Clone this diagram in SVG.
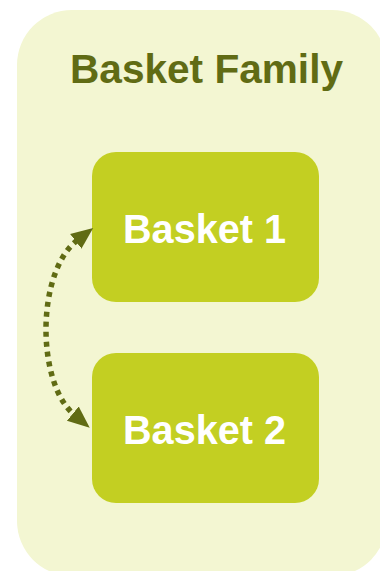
<svg xmlns="http://www.w3.org/2000/svg" width="380" height="571" viewBox="0 0 380 571">
<style>
.box{fill:#C3CF22}
.lbl{font-family:"Liberation Sans",Arial,sans-serif;font-weight:bold;font-size:41px;fill:#fff;text-anchor:middle}
.title{font-family:"Liberation Sans",Arial,sans-serif;font-weight:bold;font-size:41px;fill:#606B14;text-anchor:middle}
.conn{fill:none;stroke:#606B14;stroke-width:5.5;stroke-dasharray:5 5}
</style>
<defs>
<marker id="ah" viewBox="0 0 10 10" refX="1" refY="5" markerWidth="4" markerHeight="4" orient="auto-start-reverse" markerUnits="strokeWidth">
<path d="M0,0.8 L10,5 L0,9.2 Z" fill="#606B14"/>
</marker>
</defs>
<g id="family">
<rect x="17" y="10" width="370" height="566" rx="55" ry="55" fill="#F3F6D2"/>
<text class="title" x="206.5" y="83" textLength="273" lengthAdjust="spacingAndGlyphs">Basket Family</text>
</g>
<g id="basket1">
<rect class="box" x="92" y="152" width="227" height="150" rx="24"/>
<text class="lbl" x="204.5" y="243" textLength="163" lengthAdjust="spacingAndGlyphs">Basket 1</text>
</g>
<g id="basket2">
<rect class="box" x="92" y="353" width="227" height="150" rx="24"/>
<text class="lbl" x="204.5" y="444" textLength="163" lengthAdjust="spacingAndGlyphs">Basket 2</text>
</g>
<g id="connectors">
<path class="conn" d="M77.5,240 C36,272 36,383 74.5,415" marker-start="url(#ah)" marker-end="url(#ah)"/>
</g>
</svg>
